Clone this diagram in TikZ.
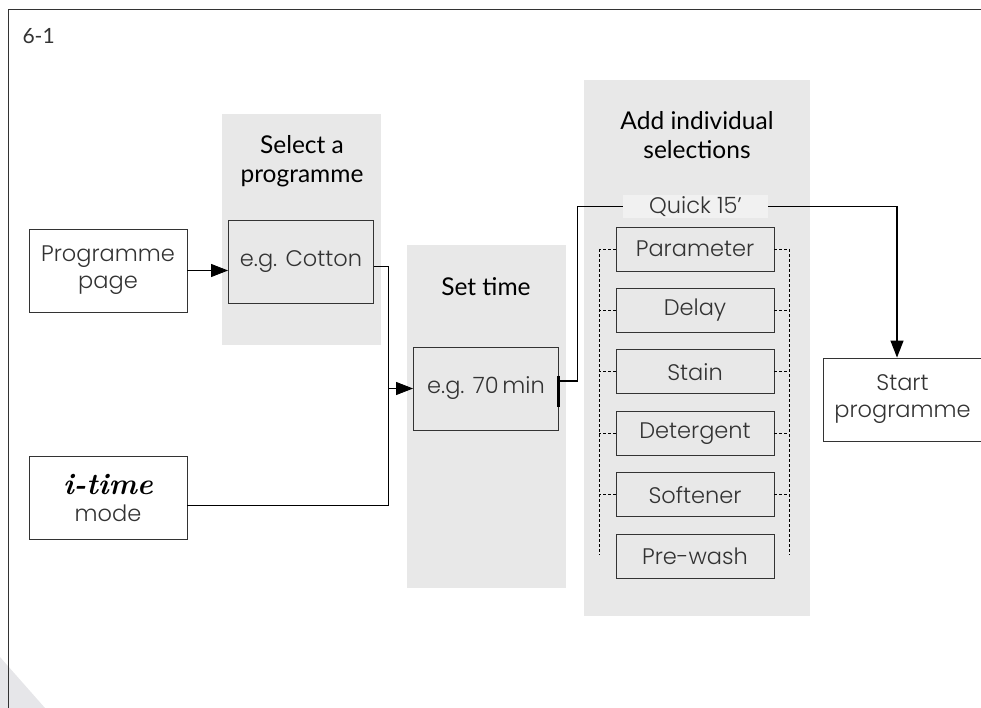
\documentclass[tikz,border=0pt]{standalone}
\usepackage{fontspec}
\setsansfont{Poppins}[UprightFont=* Light]
\newfontfamily\headfam{Lato}
\usepackage{tikz}
\usetikzlibrary{arrows.meta, positioning}

\definecolor{panelgray}{HTML}{E8E8E8}
\definecolor{quickgray}{HTML}{F1F1F1}
\definecolor{boxline}{HTML}{333333}
\definecolor{textgray}{HTML}{333333}
\definecolor{cornergray}{HTML}{E6E6E9}

\newcommand{\boxfont}{\sffamily\fontsize{22.5}{27}\selectfont}
\newcommand{\headfont}{\headfam\fontsize{24.5}{29}\selectfont}

\begin{document}
\begin{tikzpicture}[x=1pt, y=-1pt, node distance=16.5pt,
    box/.style={rectangle, draw=boxline, line width=0.9pt, minimum width=158pt, minimum height=83pt, inner sep=0pt, align=center, font=\boxfont, text=textgray},
    gbox/.style={box, fill=panelgray, minimum width=145pt},
    opt/.style={box, fill=panelgray, minimum height=44pt},
    quick/.style={rectangle, fill=quickgray, minimum width=145pt, minimum height=23pt, inner sep=0pt, font=\boxfont, text=textgray},
    head/.style={align=center, font=\headfont, text=black},
    link/.style={line width=0.9pt, draw=black},
    arrow/.style={link, ->, >={Triangle[length=17pt, width=13pt]}},
    dline/.style={line width=0.7pt, dash pattern=on 3pt off 2pt}]
    \useasboundingbox (0,0) rectangle (981,708);

    % frame and panels
    \fill[cornergray] (0,657) -- (45,708) -- (0,708) -- cycle;
    \draw[line width=1pt, boxline] (8,708) -- (8,10) -- (981,10);
    \node[anchor=west, font=\headfam\fontsize{21}{24}\selectfont, text=textgray] (fignum) at (19,36) {6-1};
    \fill[panelgray] (222,114) rectangle (381,345);
    \fill[panelgray] (407,245) rectangle (566,588);
    \fill[panelgray] (584,80) rectangle (810,616);

    \node [head] (selhead) at (302,161) {Select a\\programme};
    \node [head] (timehead) at (486,287) {Set time};
    \node [head] (addhead) at (697,135) {Add individual\\selections};

    % boxes
    \node [box] (page) at (108,270.5) {Programme\\page};
    \node [box] (itime) at (108,498) {{\rmfamily\bfseries\itshape\fontsize{30}{27}\selectfont\color{black}i-time}\\mode};
    \node [gbox] (cotton) at (301,261.5) {e.g. Cotton};
    \node [gbox] (time) at (486,388.5) {e.g. 70\,min};
    \node [box] (start) at (902.5,399.5) {Start\\programme};

    \node [quick] (quick) at (695.5,206.5) {Quick 15’};
    \node [opt] (param) at (695,249) {Parameter};
    \node [opt, below=of param] (delay) {Delay};
    \node [opt, below=of delay] (stain) {Stain};
    \node [opt, below=of stain] (deterg) {Detergent};
    \node [opt, below=of deterg] (soft) {Softener};
    \node [opt, below=of soft] (prewash) {Pre-wash};

    % dashed brackets
    \coordinate (dltop) at (599,249);
    \coordinate (dlbot) at (599,555);
    \coordinate (drtop) at (789,249);
    \coordinate (drbot) at (789,555);
    \draw [dline] (dltop) -- (dlbot);
    \draw [dline] (drtop) -- (drbot);
    \foreach \n in {param,delay,stain,deterg,soft} {
        \draw [dline] (\n.west) -- (\n.west -| dltop);
        \draw [dline] (\n.east) -- (\n.east -| drtop);
    }

    % connectors
    \coordinate (merge) at (388,388.5);
    \draw [arrow] (page.east) -- (page.east -| cotton.west);
    \draw [link] ([yshift=-4.5pt]cotton.east) -| (merge);
    \draw [link] ([yshift=-7pt]itime.east) -| (merge);
    \draw [arrow] (merge) -- (time.west);
    \draw [line width=3pt] ([yshift=13pt]time.east) -- ([yshift=-18pt]time.east);
    \draw [link, line width=1.4pt] ([yshift=7.5pt]time.east) -- ++(18.5,0) |- (quick.west);
    \draw [arrow, line width=1.2pt] (quick.east) -| ([xshift=-5.5pt]start.north);
\end{tikzpicture}
\end{document}
